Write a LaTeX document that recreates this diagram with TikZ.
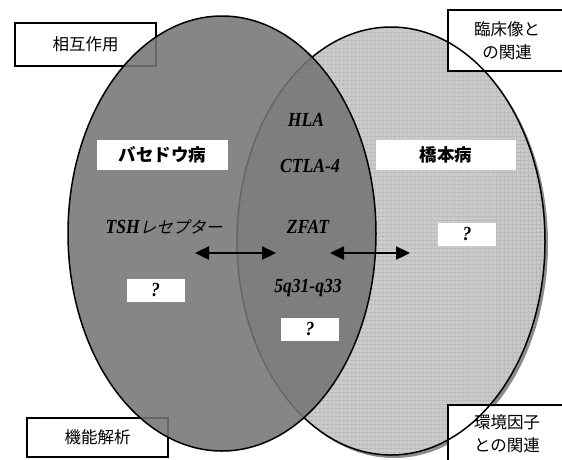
\documentclass[tikz,border=0pt]{standalone}
\usepackage{fontspec}
\setmainfont{Liberation Serif}
\newfontfamily\jp{Noto Sans CJK JP}
\newfontfamily\jpit[FakeSlant=0.22]{Noto Sans CJK JP}
\newfontfamily\latit[FakeStretch=0.88]{Liberation Serif}
\usetikzlibrary{arrows.meta,patterns.meta}
\tikzset{
  outerbox/.style={draw=black, line width=1.2pt, fill=white, inner sep=0pt, align=center,
     font=\fontsize{16.5}{23}\selectfont\jp},
  namebox/.style={fill=white, inner sep=0pt, font=\fontsize{17.5}{20}\selectfont\jp\bfseries},
  qbox/.style={fill=white, inner sep=0pt, minimum width=58pt, minimum height=23pt,
     font=\fontsize{20}{22}\selectfont\latit\bfseries\itshape},
  gene/.style={inner sep=0pt, font=\fontsize{20}{22}\selectfont\latit\bfseries\itshape},
  dblarrow/.style={{Triangle[length=14pt,width=13pt]}-{Triangle[length=14pt,width=13pt]}, line width=2.4pt, black},
  outline/.style={draw=black, line width=1.5pt}
}
\begin{document}
\begin{tikzpicture}[x=1pt,y=-1pt]
\useasboundingbox (0,0) rectangle (562,459);
% right ellipse (Hashimoto) with shadow and grid texture
\fill[black!45] (394,244) ellipse [x radius=154, y radius=214];
\fill[black!21] (391,241) ellipse [x radius=154, y radius=214];
\fill[pattern={Lines[angle=0,distance=4pt,line width=0.5pt]}, pattern color=black!33] (391,241) ellipse [x radius=154, y radius=214];
\fill[pattern={Lines[angle=90,distance=4pt,line width=0.5pt]}, pattern color=black!33] (391,241) ellipse [x radius=154, y radius=214];
% right-side boxes
\node[outerbox, minimum width=118pt, minimum height=61pt] (clin) at (507,40.5) {臨床像と\\の関連};
\node[outerbox, minimum width=118pt, minimum height=57pt] (env) at (507,433.5) {環境因子\\との関連};
\draw[outline] (391,241) ellipse [x radius=154, y radius=214];
% left-side boxes
\node[outerbox, minimum width=141pt, minimum height=43pt] (inter) at (85.5,44.5) {相互作用};
\node[outerbox, minimum width=141pt, minimum height=39pt] (func) at (97.5,437.5) {機能解析};
% left ellipse (Graves), translucent
\fill[black!54, opacity=0.88] (222,233.5) ellipse [x radius=154, y radius=217.5];
\draw[outline] (222,233.5) ellipse [x radius=154, y radius=217.5];
% labels
\node[namebox, minimum width=131pt, minimum height=30pt] (graves) at (162.5,155) {バセドウ病};
\node[namebox, minimum width=140pt, minimum height=30pt] (hashi) at (446,155) {橋本病};
\node[gene] (hla) at (306,120) {HLA};
\node[gene] (ctla) at (310,166) {CTLA-4};
\node[gene] (zfat) at (308,227) {ZFAT};
\node[gene] (q33) at (308,288) {5q31-q33};
\node[gene] (tsh) at (164,227) {TSH{\fontsize{16.5}{20}\selectfont\jpit\mdseries レセプター}};
\node[qbox] (qr) at (467,234.5) {?};
\node[qbox] (ql) at (155.5,290.5) {?};
\node[qbox] (qc) at (310,329) {?};
% arrows
\coordinate (a1) at (195,253);
\coordinate (a2) at (276,253);
\coordinate (b1) at (330,253);
\coordinate (b2) at (410,253);
\draw[dblarrow] (a1) -- (a2);
\draw[dblarrow] (b1) -- (b2);
\end{tikzpicture}
\end{document}
